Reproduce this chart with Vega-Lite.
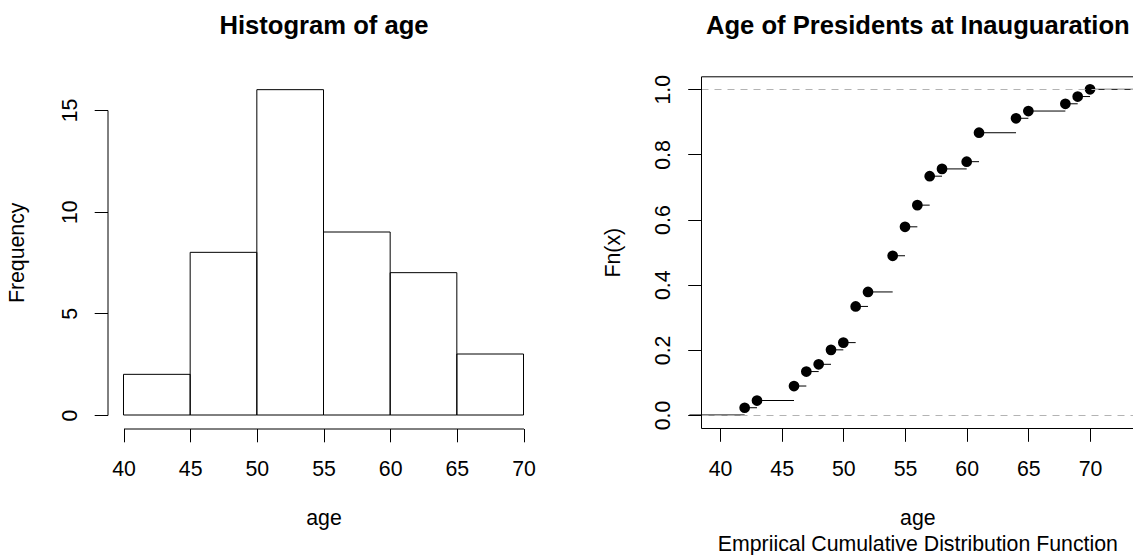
{
  "$schema": "https://vega.github.io/schema/vega-lite/v6.json",
  "width": 1133,
  "height": 555,
  "autosize": {"type": "none"},
  "padding": 0,
  "background": "white",
  "datasets": {
    "hist": [
      {"start": 40, "end": 45, "count": 2},
      {"start": 45, "end": 50, "count": 8},
      {"start": 50, "end": 55, "count": 16},
      {"start": 55, "end": 60, "count": 9},
      {"start": 60, "end": 65, "count": 7},
      {"start": 65, "end": 70, "count": 3}
    ],
    "ecdf": [
      {"from": 37.52, "to": 42, "Fn": 0},
      {"from": 42, "to": 43, "Fn": 0.0222},
      {"from": 43, "to": 46, "Fn": 0.0444},
      {"from": 46, "to": 47, "Fn": 0.0889},
      {"from": 47, "to": 48, "Fn": 0.1333},
      {"from": 48, "to": 49, "Fn": 0.1556},
      {"from": 49, "to": 50, "Fn": 0.2},
      {"from": 50, "to": 51, "Fn": 0.2222},
      {"from": 51, "to": 52, "Fn": 0.3333},
      {"from": 52, "to": 54, "Fn": 0.3778},
      {"from": 54, "to": 55, "Fn": 0.4889},
      {"from": 55, "to": 56, "Fn": 0.5778},
      {"from": 56, "to": 57, "Fn": 0.6444},
      {"from": 57, "to": 58, "Fn": 0.7333},
      {"from": 58, "to": 60, "Fn": 0.7556},
      {"from": 60, "to": 61, "Fn": 0.7778},
      {"from": 61, "to": 64, "Fn": 0.8667},
      {"from": 64, "to": 65, "Fn": 0.9111},
      {"from": 65, "to": 68, "Fn": 0.9333},
      {"from": 68, "to": 69, "Fn": 0.9556},
      {"from": 69, "to": 70, "Fn": 0.9778},
      {"from": 70, "to": 74.48, "Fn": 1}
    ]
  },
  "layer": [
    {
      "data": {"name": "hist"},
      "layer": [
        {
          "mark": {"type": "rect", "fill": "white", "strokeWidth": 0},
          "encoding": {
            "x": {
              "field": "start", "type": "quantitative",
              "scale": {"domain": [40, 70], "range": [123.5, 523.5], "nice": false, "zero": false},
              "axis": {
                "orient": "bottom", "offset": -126.5, "values": [40, 45, 50, 55, 60, 65, 70], "format": "d",
                "labelPadding": 34, "labelBaseline": "alphabetic", "labelAlign": "center",
                "title": "age", "titleX": 323.5, "titleY": 95.5, "titleBaseline": "alphabetic", "titleAlign": "center"
              }
            },
            "x2": {"field": "end"},
            "y": {
              "field": "count", "type": "quantitative",
              "scale": {"domain": [0, 15], "range": [415, 110], "nice": false, "zero": false},
              "axis": {
                "orient": "left", "offset": -107.5, "values": [0, 5, 10, 15], "format": "d",
                "labelAngle": -90, "labelAlign": "center", "labelBaseline": "alphabetic", "labelPadding": 17.5,
                "title": "Frequency", "titleAngle": -90, "titleAlign": "center", "titleBaseline": "alphabetic",
                "titleX": -84, "titleY": 252.3
              }
            },
            "y2": {"datum": 0}
          }
        },
        {
          "mark": {"type": "rect", "fill": null, "fillOpacity": 0, "stroke": "black", "strokeWidth": 1},
          "encoding": {
            "x": {
              "field": "start", "type": "quantitative",
              "axis": {
                "orient": "top", "offset": 0, "domain": false, "ticks": false, "labels": false,
                "title": "Histogram of age", "titleFontSize": 25.6, "titleFontWeight": "bold",
                "titleX": 323.5, "titleY": 33.5, "titleBaseline": "alphabetic", "titleAlign": "center"
              }
            },
            "x2": {"field": "end"},
            "y": {"field": "count", "type": "quantitative", "axis": null},
            "y2": {"datum": 0}
          }
        }
      ],
      "resolve": {"axis": {"x": "independent", "y": "independent"}}
    },
    {
      "data": {"name": "ecdf"},
      "layer": [
        {
          "mark": {"type": "rule", "color": "black", "strokeWidth": 1},
          "encoding": {
            "x": {
              "field": "from", "type": "quantitative",
              "scale": {"domain": [38.46, 73.54], "range": [701, 1133.7], "nice": false, "zero": false},
              "axis": {
                "orient": "bottom", "offset": -127, "values": [40, 45, 50, 55, 60, 65, 70], "format": "d",
                "labelPadding": 34.5, "labelBaseline": "alphabetic", "labelAlign": "center",
                "title": ["age", "Empriical Cumulative Distribution Function"], "titleLineHeight": 26,
                "titleX": 917.35, "titleY": 96, "titleBaseline": "alphabetic", "titleAlign": "center"
              }
            },
            "x2": {"field": "to"},
            "y": {
              "field": "Fn", "type": "quantitative",
              "scale": {"domain": [-0.04, 1.04], "range": [428, 76.3], "nice": false, "zero": false},
              "axis": {
                "orient": "left", "offset": -701, "values": [0, 0.2, 0.4, 0.6, 0.8, 1], "format": ".1f",
                "labelAngle": -90, "labelAlign": "center", "labelBaseline": "alphabetic", "labelPadding": 17.8,
                "title": "Fn(x)", "titleAngle": -90, "titleAlign": "center", "titleBaseline": "alphabetic",
                "titleX": -82, "titleY": 252.2,
                "grid": true, "gridColor": "#b3b3b3", "gridDash": [7, 6], "gridWidth": 1.2,
                "gridOpacity": {"condition": {"test": "datum.value == 0 || datum.value == 1", "value": 1}, "value": 0},
                "zindex": 1
              }
            }
          }
        },
        {
          "transform": [{"filter": "datum.from >= 42"}],
          "mark": {"type": "circle", "color": "black", "opacity": 1, "size": 115},
          "encoding": {
            "x": {
              "field": "from", "type": "quantitative",
              "axis": {
                "orient": "top", "offset": -76.3, "domain": true, "ticks": false, "labels": false,
                "title": "Age of Presidents at Inauguaration", "titleFontSize": 25.6, "titleFontWeight": "bold",
                "titleX": 917.35, "titleY": -42.8, "titleBaseline": "alphabetic", "titleAlign": "center"
              }
            },
            "y": {"field": "Fn", "type": "quantitative", "axis": null}
          }
        }
      ],
      "resolve": {"axis": {"x": "independent", "y": "independent"}}
    }
  ],
  "resolve": {"scale": {"x": "independent", "y": "independent"}},
  "config": {
    "view": {"stroke": null},
    "font": "Liberation Sans",
    "axis": {
      "labelFont": "Liberation Sans", "labelFontSize": 21.3, "labelColor": "black",
      "titleFont": "Liberation Sans", "titleFontSize": 21.3, "titleFontWeight": "normal", "titleColor": "black",
      "domainColor": "black", "domainWidth": 1, "tickColor": "black", "tickWidth": 1, "tickSize": 13.3,
      "grid": false, "labelFlush": false, "labelOverlap": false, "labelBound": false
    }
  }
}
